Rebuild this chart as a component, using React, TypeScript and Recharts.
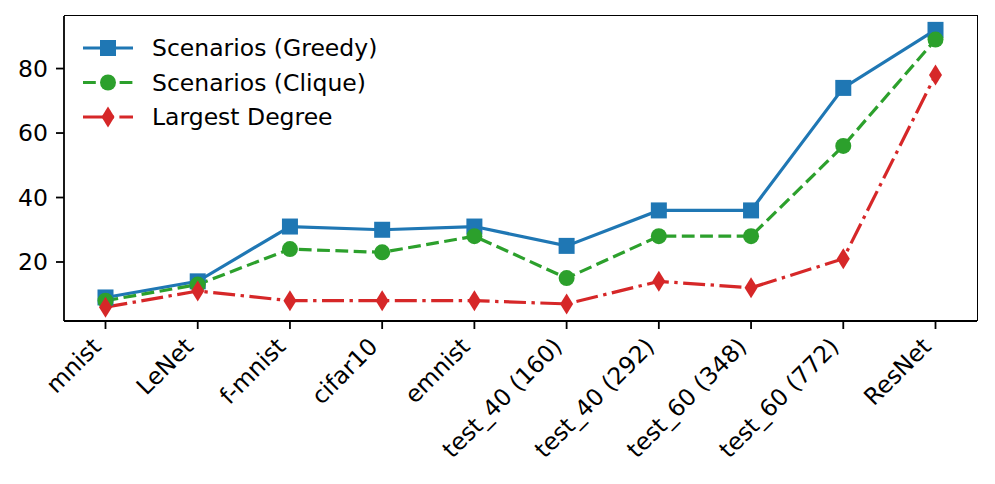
import { LineChart, Line, XAxis, YAxis, Legend } from 'recharts';

const models = ['mnist', 'LeNet', 'f-mnist', 'cifar10', 'emnist', 'test_40 (160)', 'test_40 (292)', 'test_60 (348)', 'test_60 (772)', 'ResNet'];
const greedy = [9, 14, 31, 30, 31, 25, 36, 36, 74, 92];
const clique = [8, 13, 24, 23, 28, 15, 28, 28, 56, 89];
const largestDegree = [6, 11, 8, 8, 8, 7, 14, 12, 21, 78];
const yTicks = [20, 40, 60, 80];

const BLUE = '#1f77b4';
const GREEN = '#2ca02c';
const RED = '#d62728';
const FONT = '"DejaVu Sans", sans-serif';
const FS = 23.5;

const data = models.map((name, i) => ({
  name,
  greedy: greedy[i],
  clique: clique[i],
  largest: largestDegree[i],
}));

const Square = ({ cx, cy }: { cx: number; cy: number }) => (
  <rect x={cx - 8} y={cy - 8} width={16} height={16} fill={BLUE} />
);
const Dot = ({ cx, cy }: { cx: number; cy: number }) => (
  <circle cx={cx} cy={cy} r={8} fill={GREEN} />
);
const Diamond = ({ cx, cy }: { cx: number; cy: number }) => (
  <polygon points={`${cx},${cy - 10.5} ${cx + 6.5},${cy} ${cx},${cy + 10.5} ${cx - 6.5},${cy}`} fill={RED} />
);

const RotatedTick = ({ x, y, payload }: any) => {
  const ax = x - 3;
  const ay = y + 19;
  return (
    <text x={ax} y={ay} transform={`rotate(-45, ${ax}, ${ay})`} textAnchor="end" fontSize={FS} fontFamily={FONT} fill="#000">
      {payload.value}
    </text>
  );
};

const legendRows = [
  { label: 'Scenarios (Greedy)', color: BLUE, dash: undefined, mark: Square, y: 48 },
  { label: 'Scenarios (Clique)', color: GREEN, dash: '12.8 5.5', mark: Dot, y: 82.5 },
  { label: 'Largest Degree', color: RED, dash: '22 5.5 3.4 5.5', mark: Diamond, y: 117 },
];

const LegendBox = () => (
  <svg width={400} height={140} style={{ display: 'block' }}>
    {legendRows.map((r) => (
      <g key={r.label}>
        <line x1={83} x2={133} y1={r.y} y2={r.y} stroke={r.color} strokeWidth={3.2} strokeDasharray={r.dash} />
        <r.mark cx={108} cy={r.y} />
        <text x={152} y={r.y + 8} fontSize={FS} fontFamily={FONT} fill="#000">{r.label}</text>
      </g>
    ))}
  </svg>
);

export default function App() {
  return (
    <div style={{ position: 'absolute', left: 0, top: 0, width: 995, height: 484, background: '#fff' }}>
      <LineChart width={995} height={484} data={data} margin={{ top: 16, right: 18, left: 0, bottom: 0 }}>
        <XAxis
          dataKey="name"
          height={163}
          interval={0}
          padding={{ left: 41.5, right: 41.5 }}
          tick={<RotatedTick />}
          tickSize={8}
          tickMargin={0}
          axisLine={{ stroke: '#000', strokeWidth: 1.8 }}
          tickLine={{ stroke: '#000', strokeWidth: 1.8 }}
        />
        <YAxis
          type="number"
          domain={[1.7, 96.3]}
          ticks={yTicks}
          allowDataOverflow
          width={64}
          tickSize={8}
          tickMargin={8}
          tick={{ fontSize: FS, fontFamily: FONT, fill: '#000' }}
          axisLine={{ stroke: '#000', strokeWidth: 1.8 }}
          tickLine={{ stroke: '#000', strokeWidth: 1.8 }}
        />
        <Legend
          layout="horizontal"
          verticalAlign="middle"
          align="center"
          content={<LegendBox />}
          wrapperStyle={{ left: 0, top: 0, width: 400, height: 140 }}
        />
        <Line
          dataKey="greedy"
          name="Scenarios (Greedy)"
          stroke={BLUE}
          strokeWidth={3.2}
          isAnimationActive={false}
          dot={(p: any) => <Square key={`g-${p.index}`} cx={p.cx} cy={p.cy} />}
        />
        <Line
          dataKey="clique"
          name="Scenarios (Clique)"
          stroke={GREEN}
          strokeWidth={3.2}
          strokeDasharray="12.8 5.5"
          isAnimationActive={false}
          dot={(p: any) => <Dot key={`c-${p.index}`} cx={p.cx} cy={p.cy} />}
        />
        <Line
          dataKey="largest"
          name="Largest Degree"
          stroke={RED}
          strokeWidth={3.2}
          strokeDasharray="22 5.5 3.4 5.5"
          isAnimationActive={false}
          dot={(p: any) => <Diamond key={`l-${p.index}`} cx={p.cx} cy={p.cy} />}
        />
      </LineChart>
      {/* top and right spines of the axes frame */}
      <div
        style={{
          position: 'absolute',
          left: 64,
          top: 15.1,
          width: 913.9,
          height: 306,
          borderTop: '1.8px solid #000',
          borderRight: '1.8px solid #000',
          boxSizing: 'border-box',
          pointerEvents: 'none',
        }}
      />
    </div>
  );
}
